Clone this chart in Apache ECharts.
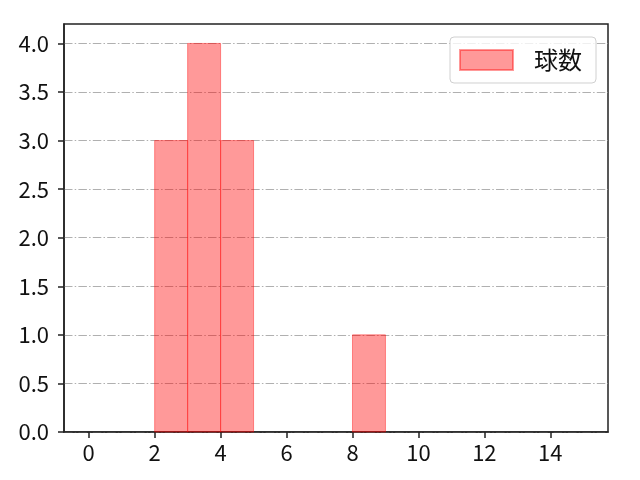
<!DOCTYPE html>
<html>
<head>
<meta charset="utf-8">
<script src="https://cdn.jsdelivr.net/npm/echarts@6/dist/echarts.min.js"></script>
<style>
  html, body { margin: 0; padding: 0; background: #fff; }
  #chart { width: 640px; height: 480px; }
</style>
</head>
<body>
<div id="chart"></div>
<script>
// histogram bins (left edge, right edge) and counts
const binStart = [2, 3, 4, 8];
const binEnd = [3, 4, 5, 9];
const counts = [3, 4, 3, 1];
const seriesName = '球数';
const xTicks = [0, 2, 4, 6, 8, 10, 12, 14];
const yTicks = [0, 0.5, 1, 1.5, 2, 2.5, 3, 3.5, 4];

const FONT = '"Noto Sans CJK JP", "Noto Sans", sans-serif';
const barFill = 'rgba(255,0,0,0.4)';

const histData = binStart.map((s, i) => [s, binEnd[i], counts[i]]);

const chart = echarts.init(document.getElementById('chart'), null, { renderer: 'canvas' });

const option = {
  animation: false,
  backgroundColor: '#fff',
  textStyle: { fontFamily: FONT },
  grid: {
    left: 64, right: 32, top: 24, bottom: 48,
    show: true, borderColor: '#222', borderWidth: 1.5, backgroundColor: 'transparent'
  },
  legend: {
    right: 44, top: 37,
    orient: 'vertical',
    padding: [11, 14, 11, 9],
    itemWidth: 53, itemHeight: 20,
    borderColor: '#d0d0d0', borderWidth: 1, borderRadius: 4,
    backgroundColor: 'rgba(255,255,255,0.8)',
    textStyle: { fontFamily: FONT, fontSize: 24, color: '#111', padding: [0, 0, 0, 16] },
    data: [{ name: seriesName, icon: 'rect' }]
  },
  xAxis: {
    type: 'value',
    min: -0.75, max: 15.75,
    axisLine: { show: true, onZero: false, lineStyle: { color: '#222', width: 1.5 } },
    axisTick: { show: true, length: 6, customValues: xTicks, lineStyle: { color: '#222', width: 1.5 } },
    axisLabel: { customValues: xTicks, fontFamily: FONT, fontSize: 22, color: '#111', margin: 10 },
    splitLine: { show: false }
  },
  yAxis: {
    type: 'value',
    min: 0, max: 4.2, interval: 0.5,
    axisLine: { show: true, onZero: false, lineStyle: { color: '#222', width: 1.5 } },
    axisTick: { show: true, length: 6, customValues: yTicks, lineStyle: { color: '#222', width: 1.5 } },
    axisLabel: {
      customValues: yTicks, fontFamily: FONT, fontSize: 22, color: '#111', margin: 15,
      formatter: v => v.toFixed(1)
    },
    splitLine: { show: true, lineStyle: { color: '#b0b0b0', width: 1, type: [8.5, 2.2, 1.5, 2.2] } }
  },
  series: [{
    name: seriesName,
    type: 'custom',
    itemStyle: { color: barFill, borderColor: barFill, borderWidth: 1 },
    encode: { x: [0, 1], y: 2 },
    data: histData,
    renderItem: function (params, api) {
      const p0 = api.coord([api.value(0), api.value(2)]);
      const p1 = api.coord([api.value(1), 0]);
      return {
        type: 'rect',
        shape: { x: p0[0], y: p0[1], width: p1[0] - p0[0], height: p1[1] - p0[1] },
        style: { fill: barFill, stroke: barFill, lineWidth: 1 }
      };
    }
  }]
};

chart.setOption(option);
</script>
</body>
</html>
